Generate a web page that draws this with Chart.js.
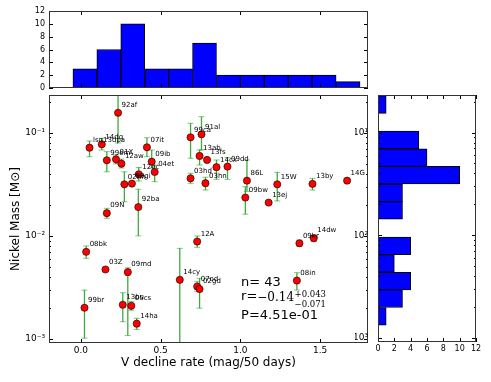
<!DOCTYPE html>
<html><head><meta charset="utf-8">
<script src="https://cdn.jsdelivr.net/npm/chart.js@4.4.0/dist/chart.umd.min.js"></script>
<style>
html,body{margin:0;padding:0;background:#fff;}
#wrap{position:relative;width:491px;height:382px;overflow:hidden;background:#fff;}
#wrap canvas{position:absolute;left:0;top:0;}
</style></head><body>
<div id="wrap">
<canvas id="main" width="491" height="382"></canvas>
<canvas id="topHist" width="491" height="382"></canvas>
<canvas id="rightHist" width="491" height="382"></canvas>
</div>
<script>
// ---- data ----
const snNames = ['lsq13dpa','14dq','92af','99em','01X','12aw','07it','09ib','04et','12ec','02hh','99gi','92ba','09N','08bk','03Z','09md','13bu','05cs','14ha','99br','14cy','12A','07od','02gd','09kr','14dw','08in','99ca','91al','13ab','13fs','14cx','09dd','03hd','03hn','86L','09bw','15W','13ej','13by','14G'];
const declineRate = [0.054,0.131,0.233,0.1625,0.22,0.254,0.414,0.444,0.4625,0.3625,0.2725,0.32,0.36,0.1625,0.033,0.154,0.294,0.2625,0.316,0.35,0.0225,0.62,0.729,0.729,0.744,1.37,1.46,1.354,0.6875,0.756,0.744,0.791,0.85,0.919,0.6875,0.781,1.041,1.031,1.231,1.177,1.452,1.669];
const nickelMass = [0.0716,0.0772,0.156,0.054,0.0552,0.0501,0.0722,0.0524,0.0416,0.0395,0.0316,0.0321,0.019,0.0166,0.0070,0.00472,0.00445,0.00215,0.0021,0.00141,0.00201,0.00375,0.00881,0.00323,0.00305,0.00848,0.0095,0.00369,0.0902,0.0965,0.0595,0.0545,0.0463,0.0469,0.0361,0.0324,0.0343,0.0235,0.0316,0.021,0.0319,0.0343];
const massErrLow = [0.0585,0.068,0.0795,0.0418,0.0498,0.0455,0.0585,0.0455,0.0335,0.034,0.0214,null,0.01,0.0148,0.00606,null,0.00108,0.00147,0.0019,0.00124,0.00102,0.0005,0.00774,0.0029,0.00199,0.0079,0.0088,0.00298,0.0565,0.068,0.0486,null,0.0353,0.0353,0.0323,0.0278,0.027,0.0162,0.0218,null,0.0278,null];
const massErrHigh = [0.0831,0.0882,0.35,0.0655,0.0608,0.0555,0.0894,0.068,0.0486,0.046,0.0418,null,0.0283,0.0185,0.00798,null,0.0049,0.00281,0.0023,0.00159,0.00298,0.00757,0.00997,0.0036,0.00388,0.0091,0.00997,0.0044,0.1233,0.143,0.068,null,0.0544,0.0573,0.0404,0.037,0.0544,0.03,0.0413,null,0.0361,null];

const declineBinCenters = [0.025,0.175,0.325,0.475,0.625,0.775,0.925,1.075,1.225,1.375,1.525,1.675];
const declineBinCounts  = [3,6,10,3,3,7,2,2,2,2,2,1];
const massBinCenters = [0.001626,0.002415,0.003589,0.005321,0.007907,0.01175,0.01746,0.02588,0.03846,0.05715,0.08492,0.1259,0.1871];
const massBinCounts  = [1,3,4,2,4,0,3,3,10,6,5,0,1];

const declineTicks = [0, 0.5, 1.0, 1.5];
const massTicks = [0.001, 0.01, 0.1];
const countTicks = [0, 2, 4, 6, 8, 10, 12];

const statN = '43';
const statR = '\u22120.14', statRUp = '+0.043', statRLo = '\u22120.071';
const statP = '4.51e-01';

// ---- helpers ----
Chart.defaults.font.family = '"DejaVu Sans", sans-serif';
Chart.defaults.color = '#000';
const SUP = {'-':'\u207B','0':'\u2070','1':'\u00B9','2':'\u00B2','3':'\u00B3','4':'\u2074','5':'\u2075','6':'\u2076','7':'\u2077','8':'\u2078','9':'\u2079'};
const sup = s => s.split('').map(c => SUP[c] || c).join('');
const pow10Label = (v, signed) => { const e = Math.round(Math.log10(v)); return '10' + sup(String(signed ? e : Math.abs(e))); };
const setTicks = arr => s => { s.ticks = arr.map(v => ({value: v})); };

function logTickList(min, max) {
  const out = [];
  for (let k = Math.floor(Math.log10(min)); k <= Math.ceil(Math.log10(max)); k++) {
    for (let m = 1; m <= 9; m++) {
      const v = m * Math.pow(10, k);
      if (v >= min && v <= max) out.push({v, major: m === 1});
    }
  }
  return out;
}
// frame and inward tick marks, drawn with filled 1px rectangles
function drawFrame(chart) {
  const ctx = chart.ctx, a = chart.chartArea;
  const L = Math.round(a.left), T = Math.round(a.top), R = Math.round(a.right), B = Math.round(a.bottom);
  ctx.save();
  ctx.globalAlpha = 1;
  ctx.globalCompositeOperation = 'source-over';
  ctx.fillStyle = '#000';
  ['x', 'y'].forEach(id => {
    const s = chart.scales[id];
    if (!s) return;
    const list = s.type === 'logarithmic' ? logTickList(s.min, s.max) : (s.ticks || []).map(t => ({v: t.value, major: true}));
    list.forEach(({v, major}) => {
      const len = major ? 4 : 2;
      const p = Math.round(s.getPixelForValue(v));
      if (id === 'x') {
        ctx.fillRect(p, B - len, 1, len);
        ctx.fillRect(p, T, 1, len);
      } else {
        ctx.fillRect(L, p, len, 1);
        ctx.fillRect(R - len, p, len, 1);
      }
    });
  });
  ctx.fillStyle = '#333';
  ctx.fillRect(L, T, R - L, 1);
  ctx.fillRect(L, B - 1, R - L, 1);
  ctx.fillRect(L, T, 1, B - T);
  ctx.fillRect(R - 1, T, 1, B - T);
  ctx.restore();
}
const makeFrame = name => ({ id: 'frame_' + name, afterDraw: chart => drawFrame(chart) });

const pointLabels = {
  id: 'pointLabels',
  afterDatasetsDraw(chart) {
    const meta = chart.getDatasetMeta(0);
    const ctx = chart.ctx;
    ctx.save();
    ctx.font = '7px "DejaVu Sans"';
    ctx.fillStyle = '#000';
    ctx.textBaseline = 'middle';
    meta.data.forEach((el, i) => ctx.fillText(snNames[i], el.x + 3.5, el.y - 7.5));
    ctx.restore();
  }
};
const statsText = {
  id: 'statsText',
  afterDraw(chart) {
    const ctx = chart.ctx, a = chart.chartArea;
    const w = a.right - a.left, h = a.bottom - a.top;
    const x = a.left + 0.602 * w;
    ctx.save();
    ctx.fillStyle = '#000';
    ctx.textBaseline = 'middle';
    ctx.font = '13px "DejaVu Sans"';
    ctx.fillText('n= ' + statN, x, a.top + 0.755 * h);
    const yr = a.top + 0.815 * h;
    ctx.fillText('r=', x, yr);
    let xx = x + ctx.measureText('r=').width;
    ctx.font = '12px "DejaVu Serif"';
    ctx.fillText(statR, xx, yr + 1);
    xx += ctx.measureText(statR).width + 0.5;
    ctx.font = '8.5px "DejaVu Serif"';
    ctx.fillText(statRUp, xx, yr - 2);
    ctx.fillText(statRLo, xx, yr + 8);
    ctx.font = '13px "DejaVu Sans"';
    ctx.fillText('P=' + statP, x, a.top + 0.891 * h);
    ctx.restore();
  }
};

// ---- main scatter ----
const errData = [];
declineRate.forEach((x, i) => {
  if (massErrLow[i] == null) return;
  errData.push({x, y: massErrLow[i]}, {x, y: massErrHigh[i]}, {x, y: null});
});
const mainChart = new Chart(document.getElementById('main'), {
  type: 'scatter',
  data: {datasets: [
    {label: 'SNe', data: declineRate.map((x, i) => ({x, y: nickelMass[i]})),
     pointRadius: 3.6, pointBackgroundColor: '#ff0000', pointBorderColor: '#000', pointBorderWidth: 0.6, order: 0},
    {label: 'err', type: 'line', data: errData, showLine: true, spanGaps: false, fill: false,
     borderColor: 'rgba(0,140,0,0.75)', borderWidth: 1.3, pointStyle: 'line', pointRadius: 3,
     pointBorderColor: 'rgba(0,150,0,0.5)', pointBorderWidth: 1, order: 1}
  ]},
  options: {
    responsive: false, animation: false, events: [],
    layout: {padding: {left: 0, top: 95, right: 123, bottom: 0}},
    plugins: {legend: {display: false}, tooltip: {enabled: false}},
    scales: {
      x: {type: 'linear', min: -0.2, max: 1.8, afterBuildTicks: setTicks(declineTicks), afterFit: s => { s.height = 39; },
          grid: {display: false, drawTicks: false}, border: {display: false},
          ticks: {padding: 2, font: {size: 9}, autoSkip: false, maxRotation: 0, callback: v => v.toFixed(1)},
          title: {display: true, text: 'V decline rate (mag/50 days)', font: {size: 12}, padding: {top: 0, bottom: 12}}},
      y: {type: 'logarithmic', min: 0.000915, max: 0.232, afterBuildTicks: setTicks(massTicks), afterFit: s => { s.width = 49; },
          grid: {display: false, drawTicks: false}, border: {display: false},
          ticks: {padding: 4, font: {size: 9}, autoSkip: false, callback: v => pow10Label(v, true)},
          title: {display: true, text: 'Nickel Mass [M\u2299]', font: {size: 12}, padding: {top: 9, bottom: 0}}}
    }
  },
  plugins: [makeFrame('main'), pointLabels, statsText]
});

// ---- top histogram ----
const topChart = new Chart(document.getElementById('topHist'), {
  type: 'bar',
  data: {datasets: [{data: declineBinCenters.map((x, i) => ({x, y: declineBinCounts[i]})),
    backgroundColor: '#0000ff', borderColor: '#000', borderWidth: 1, borderSkipped: false,
    barPercentage: 1, categoryPercentage: 1}]},
  options: {
    responsive: false, animation: false, events: [],
    layout: {padding: {left: 0, top: 11, right: 123, bottom: 294}},
    plugins: {legend: {display: false}, tooltip: {enabled: false}},
    scales: {
      x: {type: 'linear', offset: false, min: -0.2, max: 1.8, afterBuildTicks: setTicks(declineTicks), afterFit: s => { s.height = 0; },
          grid: {display: false, drawTicks: false}, border: {display: false}, ticks: {display: false}},
      y: {type: 'linear', min: 0, max: 12, afterBuildTicks: setTicks(countTicks), afterFit: s => { s.width = 49; },
          grid: {display: false, drawTicks: false}, border: {display: false},
          ticks: {padding: 4, font: {size: 8}, autoSkip: false}}
    }
  },
  plugins: [makeFrame('top')]
});

// ---- right histogram ----
const rightChart = new Chart(document.getElementById('rightHist'), {
  type: 'bar',
  data: {datasets: [{data: massBinCenters.map((y, i) => ({x: massBinCounts[i], y})),
    backgroundColor: '#0000ff', borderColor: '#000', borderWidth: 1, borderSkipped: false,
    barPercentage: 1, categoryPercentage: 1}]},
  options: {
    indexAxis: 'y',
    responsive: false, animation: false, events: [],
    layout: {padding: {left: 355, top: 95, right: 15, bottom: 20}},
    plugins: {legend: {display: false}, tooltip: {enabled: false}},
    scales: {
      y: {type: 'logarithmic', offset: false, min: 0.000915, max: 0.232, afterBuildTicks: setTicks(massTicks), afterFit: s => { s.width = 23; },
          grid: {display: false, drawTicks: false}, border: {display: false},
          ticks: {padding: 10, font: {size: 9}, autoSkip: false, callback: v => pow10Label(v, false)}},
      x: {type: 'linear', min: 0, max: 12, afterBuildTicks: setTicks(countTicks), afterFit: s => { s.height = 20; },
          grid: {display: false, drawTicks: false}, border: {display: false},
          ticks: {padding: 2, font: {size: 8}, autoSkip: false, maxRotation: 0}}
    }
  },
  plugins: [makeFrame('right')]
});
drawFrame(rightChart);
</script>
</body></html>
